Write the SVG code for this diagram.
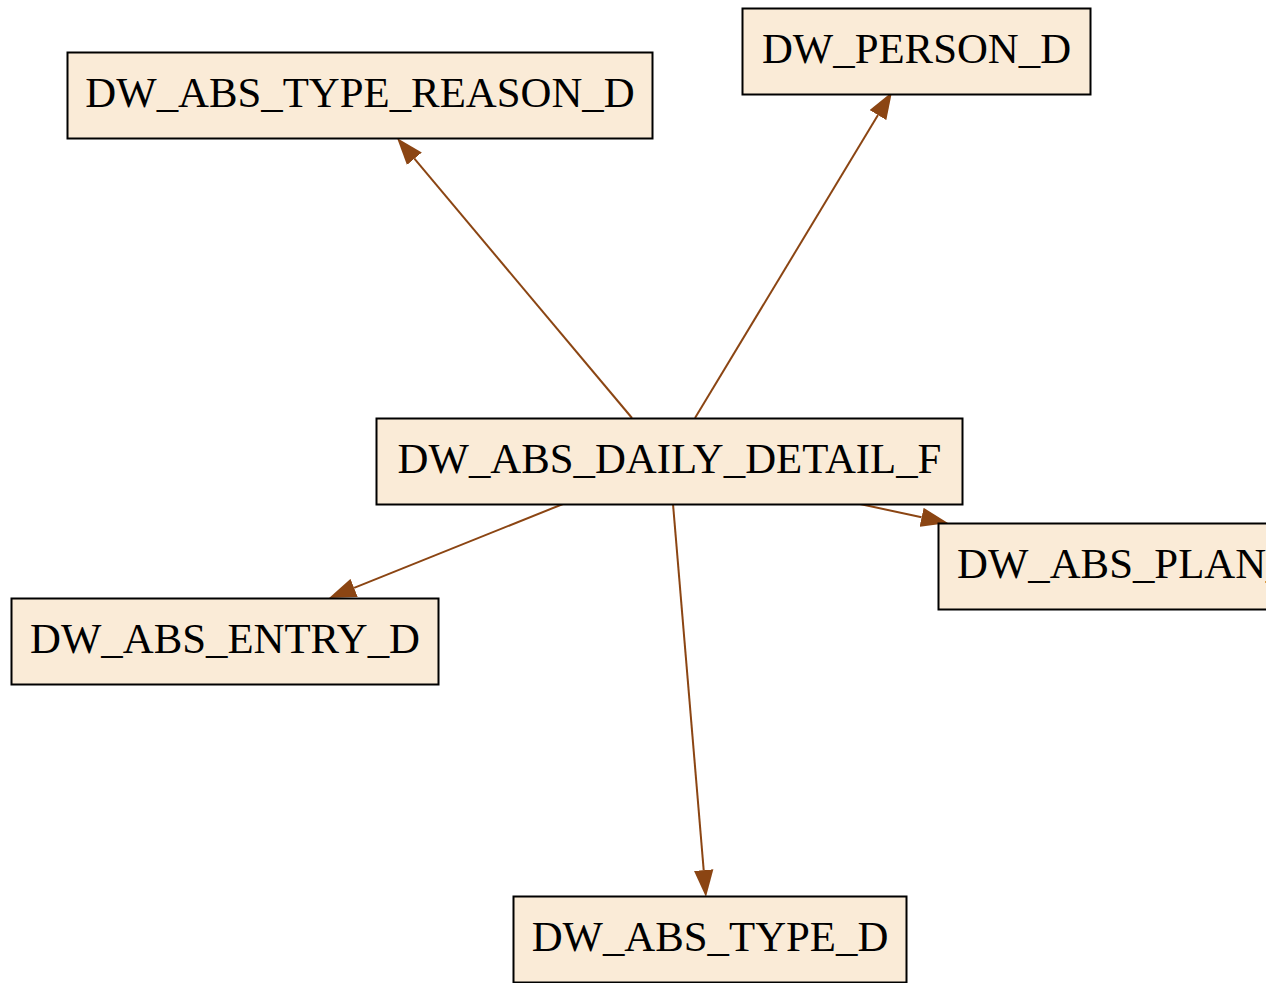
<svg xmlns="http://www.w3.org/2000/svg" width="1266" height="983" viewBox="0 0 1266 983">
<style>
.node rect{fill:#faebd7;stroke:#000;stroke-width:2}
.node text{font-family:"Liberation Serif","Times New Roman",serif;font-size:42.8px;fill:#000;text-anchor:middle}
.edges line{stroke:#8b4513;stroke-width:2;fill:none}
</style>
<defs>
<marker id="arr" markerUnits="userSpaceOnUse" viewBox="0 -10 27 20" markerWidth="27" markerHeight="20" refX="0" refY="0" orient="auto">
<path d="M0,-9.7 L27,0 L0,9.7 z" fill="#8b4513"/>
</marker>
</defs>
<rect width="1266" height="983" fill="#fff"/>
<g class="edges">
<line x1="632" y1="418" x2="414.4" y2="158.7" marker-end="url(#arr)"/>
<line x1="695" y1="418" x2="878" y2="115.1" marker-end="url(#arr)"/>
<line x1="563" y1="504" x2="354.1" y2="587.9" marker-end="url(#arr)"/>
<line x1="673" y1="504" x2="703.7" y2="870.1" marker-end="url(#arr)"/>
<line x1="860" y1="504" x2="921.6" y2="517.3" marker-end="url(#arr)"/>
</g>
<g id="n_type_reason" class="node"><rect x="67.5" y="52.5" width="585" height="86"/><text x="360" y="107">DW_ABS_TYPE_REASON_D</text></g>
<g id="n_person" class="node"><rect x="742.5" y="8.5" width="348" height="86"/><text x="916.5" y="63">DW_PERSON_D</text></g>
<g id="n_daily" class="node"><rect x="376.5" y="418.5" width="586" height="86"/><text x="669.5" y="473">DW_ABS_DAILY_DETAIL_F</text></g>
<g id="n_plan" class="node"><rect x="938.5" y="523.5" width="400" height="86"/><text x="957" y="578" style="text-anchor:start">DW_ABS_PLAN_</text></g>
<g id="n_entry" class="node"><rect x="11.5" y="598.5" width="427" height="86"/><text x="225" y="653">DW_ABS_ENTRY_D</text></g>
<g id="n_type" class="node"><rect x="513.5" y="896.5" width="393" height="86"/><text x="710" y="951">DW_ABS_TYPE_D</text></g>
</svg>
